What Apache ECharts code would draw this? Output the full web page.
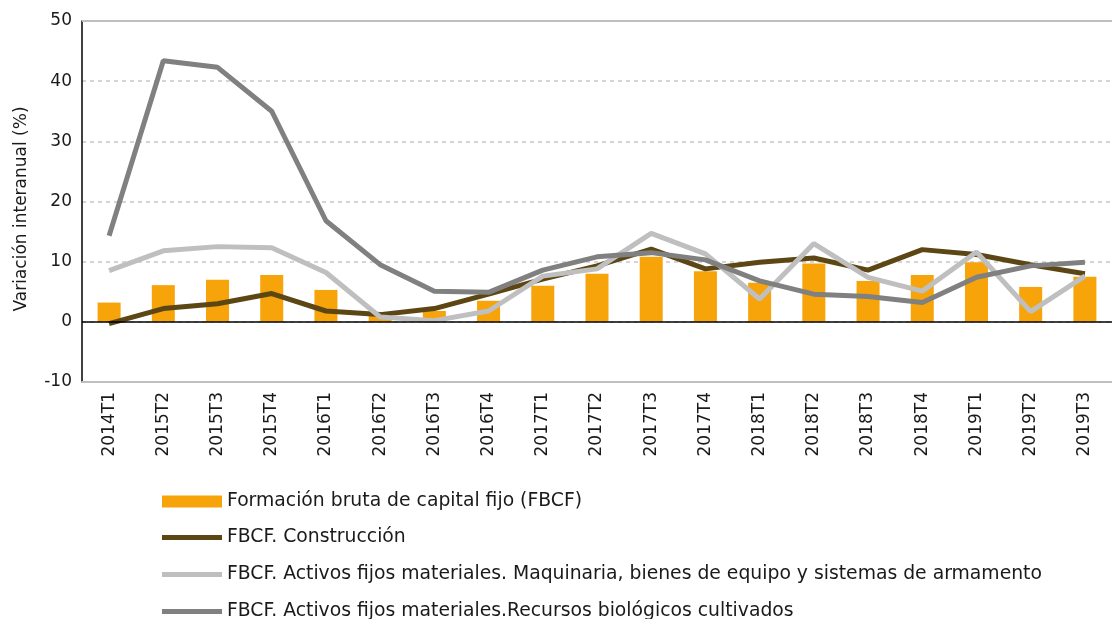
<!DOCTYPE html>
<html>
<head>
<meta charset="utf-8">
<script src="https://cdn.jsdelivr.net/npm/echarts@6/dist/echarts.min.js"></script>
<style>
  html, body { margin: 0; padding: 0; background: #fff; }
  #chart { width: 1112px; height: 619px; }
</style>
</head>
<body>
<div id="chart"></div>
<script>
// trimestres
const categories = ['2014T1', '2015T2', '2015T3', '2015T4', '2016T1', '2016T2', '2016T3', '2016T4',
  '2017T1', '2017T2', '2017T3', '2017T4', '2018T1', '2018T2', '2018T3', '2018T4',
  '2019T1', '2019T2', '2019T3'];

// variacion interanual (%)
const fbcf = [3.2, 6.1, 7.0, 7.8, 5.3, 1.5, 1.8, 3.5, 6.0, 8.0, 10.8, 8.4, 6.5, 9.7, 6.8, 7.8, 9.9, 5.8, 7.5];
const construccion = [-0.3, 2.2, 3.0, 4.7, 1.8, 1.2, 2.2, 4.6, 7.1, 9.3, 12.1, 8.8, 9.9, 10.6, 8.6, 12.0, 11.2, 9.5, 8.0];
const maquinaria = [8.5, 11.8, 12.5, 12.3, 8.2, 0.8, 0.2, 1.8, 7.6, 8.8, 14.7, 11.3, 3.8, 13.0, 7.4, 5.1, 11.6, 1.7, 7.6];
const biologicos = [14.3, 43.4, 42.3, 35.0, 16.8, 9.5, 5.1, 4.9, 8.6, 10.8, 11.5, 10.3, 6.8, 4.6, 4.2, 3.2, 7.4, 9.3, 9.9];

const names = [
  'Formación bruta de capital fijo (FBCF)',
  'FBCF. Construcción',
  'FBCF. Activos fijos materiales. Maquinaria, bienes de equipo y sistemas de armamento',
  'FBCF. Activos fijos materiales.Recursos biológicos cultivados'
];
const colores = ['#f7a30a', '#5c4614', '#bfbfbf', '#808080'];

const chart = echarts.init(document.getElementById('chart'));

const labelFont = { fontFamily: 'DejaVu Sans', fontSize: 17, color: '#1a1a1a' };
const legendText = { fontFamily: 'DejaVu Sans', fontSize: 18.8, color: '#1a1a1a', lineHeight: 18 };

function lineSerie(i, data) {
  return {
    name: names[i],
    type: 'line',
    data: data,
    showSymbol: false,
    smooth: false,
    lineStyle: { color: colores[i], width: 5 },
    itemStyle: { color: colores[i] },
    z: 3
  };
}

const option = {
  animation: false,
  grid: { left: 82, top: 21, width: 1039, height: 361, containLabel: false },
  legend: [
    {
      orient: 'vertical', left: 162, top: 492, padding: 0, height: 40,
      icon: 'rect', itemWidth: 60, itemHeight: 12, itemGap: 18,
      textStyle: legendText,
      data: [names[0]]
    },
    {
      orient: 'vertical', left: 162, top: 528, padding: 0, height: 120,
      icon: 'rect', itemWidth: 60, itemHeight: 5, itemGap: 18,
      textStyle: legendText,
      data: [names[1], names[2], names[3]]
    }
  ],
  xAxis: {
    type: 'category',
    data: categories,
    boundaryGap: true,
    axisLine: { onZero: false, lineStyle: { color: '#bfbfbf', width: 2 } },
    axisTick: { show: false },
    axisLabel: Object.assign({ rotate: 90, margin: 10, interval: 0 }, labelFont)
  },
  yAxis: {
    type: 'value',
    min: -10, max: 50, interval: 10,
    axisLine: { show: true, lineStyle: { color: '#000', width: 1.5 } },
    axisTick: { show: false },
    axisLabel: Object.assign({ margin: 10 }, labelFont),
    splitLine: { show: true, lineStyle: { color: '#c8c8c8', type: [4, 4], width: 1.5 } }
  },
  graphic: [{
    type: 'text',
    x: 22, y: 209,
    rotation: Math.PI / 2,
    style: {
      text: 'Variación interanual (%)',
      font: '17px "DejaVu Sans"',
      fill: '#1a1a1a',
      align: 'center',
      verticalAlign: 'middle'
    }
  }],
  series: [
    {
      name: names[0],
      type: 'bar',
      data: fbcf,
      barWidth: 23,
      itemStyle: { color: colores[0] },
      z: 2,
      markLine: {
        silent: true,
        symbol: 'none',
        label: { show: false },
        data: [
          { yAxis: 0, lineStyle: { color: '#000', width: 1.5, type: 'solid' } },
          { yAxis: 50, lineStyle: { color: '#bfbfbf', width: 2, type: 'solid' } }
        ]
      }
    },
    lineSerie(1, construccion),
    lineSerie(2, maquinaria),
    lineSerie(3, biologicos)
  ]
};

chart.setOption(option);
</script>
</body>
</html>
